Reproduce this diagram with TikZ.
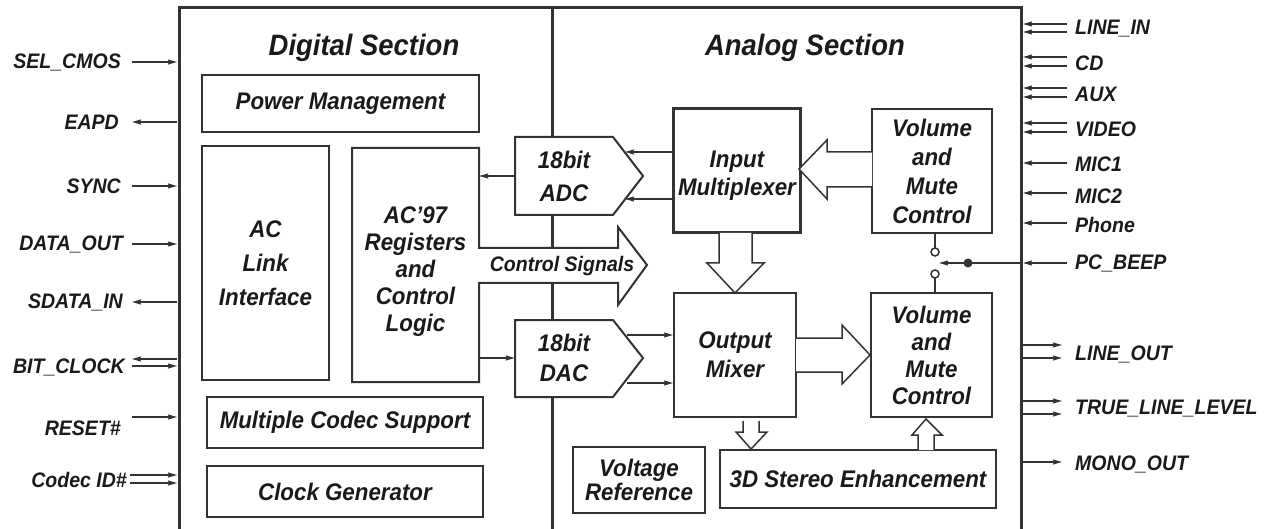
\documentclass[tikz,border=0pt]{standalone}
\usepackage{fontspec}
\setmainfont{Liberation Sans}[FakeStretch=0.93]
\usetikzlibrary{arrows.meta}
\definecolor{ink}{HTML}{1A1A1A}
\definecolor{wire}{HTML}{333333}
\newcommand{\pinfont}{\fontsize{21}{24}\selectfont\bfseries\itshape}
\newcommand{\blkfont}{\fontsize{24}{29}\selectfont\bfseries\itshape}
\tikzset{
  blk/.style={draw=wire, line width=2pt, fill=white, text=ink, font=\blkfont, align=center, inner sep=0pt},
  txt/.style={text=ink, font=\blkfont, align=center, inner sep=0pt},
  pin/.style={text=ink, font=\pinfont, inner sep=0pt},
  sig/.style={draw=wire, line width=1.5pt, -{Stealth[length=9pt,width=5pt,inset=1pt]}},
  fat/.style={draw=wire, line width=1.5pt, fill=white, line join=miter},
}
\begin{document}
\begin{tikzpicture}[x=1pt,y=-1pt]
  \useasboundingbox (0,0) rectangle (1271,529);

  % chip outline and section divider
  \draw[wire, line width=3pt] (179,545) -- (179,8) -- (1021,8) -- (1021,545);
  \draw[wire, line width=3pt] (552,8) -- (552,545);

  \node[txt, font=\fontsize{29.5}{34}\selectfont\bfseries\itshape] (dtitle) at (364,48) {Digital Section};
  \node[txt, font=\fontsize{29.5}{34}\selectfont\bfseries\itshape] (atitle) at (805,48) {Analog Section};

  % digital section
  \node[blk, minimum width=277, minimum height=57] (pwr) at (340.5,103.5) {Power Management};
  \node[blk, minimum width=127, minimum height=234, font=\fontsize{24}{34}\selectfont\bfseries\itshape] (link) at (265.5,263) {AC\\Link\\Interface};

  \draw[fat, line width=2pt] (479,248) -- (479,148) -- (352,148) -- (352,382) -- (479,382)
    -- (479,283) -- (618,283) -- (618,305) -- (647,265) -- (618,227) -- (618,248) -- cycle;
  \node[txt, minimum width=127, font=\fontsize{24}{27}\selectfont\bfseries\itshape] (regs) at (415.5,272) {AC'97\\Registers\\and\\Control\\Logic};
  \node[pin] (ctl) at (562,266) {Control Signals};

  \node[blk, minimum width=276, minimum height=51] (mcs) at (345,422.5) {Multiple Codec Support};
  \node[blk, minimum width=276, minimum height=51] (clk) at (345,491.5) {Clock Generator};

  % converters
  \draw[fat, line width=2pt] (515,137) -- (613,137) -- (643,176) -- (613,215) -- (515,215) -- cycle;
  \node[txt, minimum width=98, minimum height=78, font=\fontsize{24}{33}\selectfont\bfseries\itshape] (adc) at (564,176) {18bit\\ADC};
  \draw[fat, line width=2pt] (515,320) -- (613,320) -- (643,358) -- (613,397) -- (515,397) -- cycle;
  \node[txt, minimum width=98, minimum height=78, font=\fontsize{24}{30}\selectfont\bfseries\itshape] (dac) at (564,358) {18bit\\DAC};

  % analog section
  \node[blk, line width=3pt, minimum width=127, minimum height=124] (mux) at (736.5,171) {};
  \node[txt, font=\fontsize{24}{28}\selectfont\bfseries\itshape] (muxtxt) at (737,176) {Input\\Multiplexer};
  \node[blk, minimum width=120, minimum height=124] (vol1) at (932,171) {Volume\\and\\Mute\\Control};
  \node[blk, minimum width=122, minimum height=124] (mix) at (735,355) {Output\\Mixer};
  \node[blk, minimum width=121, minimum height=124, font=\fontsize{24}{27}\selectfont\bfseries\itshape] (vol2) at (931.5,355) {Volume\\and\\Mute\\Control};
  \node[blk, minimum width=276, minimum height=58] (st3d) at (858,479) {3D Stereo Enhancement};
  \node[blk, minimum width=132, minimum height=66, font=\fontsize{24}{22}\selectfont\bfseries\itshape] (vref) at (639,480) {Voltage\\Reference};

  % signal paths
  \draw[sig] (adc.west) -- (regs.east |- adc.west);
  \draw[sig] ([yshift=19pt]mux.west) -- (625,152);
  \draw[sig] ([yshift=-28pt]mux.west) -- (625,199);
  \draw[sig] (regs.east |- dac.west) -- (dac.west);
  \draw[sig] (627,335) -- ([yshift=20pt]mix.west);
  \draw[sig] (627,383) -- ([yshift=-28pt]mix.west);

  \draw[fat] (872,152) -- (827,152) -- (827,140) -- (799,169) -- (827,199) -- (827,187) -- (872,187);
  \draw[fat] (719,233) -- (719,263) -- (707,263) -- (735,293) -- (764,263) -- (752,263) -- (752,233);
  \draw[fat] (796,338) -- (842,338) -- (842,325) -- (870,355) -- (842,384) -- (842,372) -- (796,372);
  \draw[fat] (743,421) -- (743,432) -- (736,432) -- (751,449) -- (767,432) -- (759,432) -- (759,421);
  \draw[fat] (918,450) -- (918,435) -- (912,435) -- (926,419) -- (942,435) -- (934,435) -- (934,450);

  % beep switch
  \coordinate (sw1) at (935,252);
  \coordinate (sw2) at (935,274);
  \coordinate (beep) at (968,263);
  \draw[wire, line width=1.5pt] (sw1 |- vol1.south) -- (sw1);
  \draw[wire, line width=1.5pt] (sw2) -- (sw2 |- vol2.north);
  \draw[wire, line width=1.5pt, fill=white] (sw1) circle (4pt);
  \draw[wire, line width=1.5pt, fill=white] (sw2) circle (4pt);
  \draw[sig] (1021,263) -- (939,263);
  \fill[wire] (beep) circle (4.5pt);

  % left pins
  \node[pin, anchor=east] (selcmos) at (121,62) {SEL\_CMOS};
  \draw[sig] (132,62) -- (177,62);
  \node[pin, anchor=east] (eapd) at (119,122) {EAPD};
  \draw[sig] (177,122) -- (132,122);
  \node[pin, anchor=east] (sync) at (121,186) {SYNC};
  \draw[sig] (132,186) -- (177,186);
  \node[pin, anchor=east] (dout) at (123,244) {DATA\_OUT};
  \draw[sig] (132,244) -- (177,244);
  \node[pin, anchor=east] (sdin) at (123,302) {SDATA\_IN};
  \draw[sig] (177,302) -- (132,302);
  \node[pin, anchor=east] (bclk) at (125,367) {BIT\_CLOCK};
  \draw[sig] (177,359) -- (132,359);
  \draw[sig] (132,366) -- (177,366);
  \node[pin, anchor=east] (rst) at (121,428) {RESET\#};
  \draw[sig] (132,417) -- (177,417);
  \node[pin, anchor=east] (cid) at (127,480) {Codec ID\#};
  \draw[sig] (130,475) -- (177,475);
  \draw[sig] (130,483) -- (177,483);

  % right pins
  \node[pin, anchor=west] (linein) at (1075,29) {LINE\_IN};
  \draw[sig] (1067,24) -- (1023,24);
  \draw[sig] (1067,32) -- (1023,32);
  \node[pin, anchor=west] (cd) at (1075,63) {CD};
  \draw[sig] (1067,57) -- (1023,57);
  \draw[sig] (1067,66) -- (1023,66);
  \node[pin, anchor=west] (aux) at (1075,94) {AUX};
  \draw[sig] (1067,88) -- (1023,88);
  \draw[sig] (1067,97) -- (1023,97);
  \node[pin, anchor=west] (video) at (1075,129) {VIDEO};
  \draw[sig] (1067,123) -- (1023,123);
  \draw[sig] (1067,132) -- (1023,132);
  \node[pin, anchor=west] (mic1) at (1075,164) {MIC1};
  \draw[sig] (1067,163) -- (1023,163);
  \node[pin, anchor=west] (mic2) at (1075,196) {MIC2};
  \draw[sig] (1067,193) -- (1023,193);
  \node[pin, anchor=west] (phone) at (1075,225) {Phone};
  \draw[sig] (1067,223) -- (1023,223);
  \node[pin, anchor=west] (pcbeep) at (1075,263) {PC\_BEEP};
  \draw[sig] (1067,263) -- (1023,263);
  \node[pin, anchor=west] (lineout) at (1075,354) {LINE\_OUT};
  \draw[sig] (1022,345) -- (1062,345);
  \draw[sig] (1022,358) -- (1062,358);
  \node[pin, anchor=west] (tll) at (1075,409) {TRUE\_LINE\_LEVEL};
  \draw[sig] (1022,401) -- (1062,401);
  \draw[sig] (1022,414) -- (1062,414);
  \node[pin, anchor=west] (mono) at (1075,464) {MONO\_OUT};
  \draw[sig] (1022,462) -- (1062,462);
\end{tikzpicture}
\end{document}
